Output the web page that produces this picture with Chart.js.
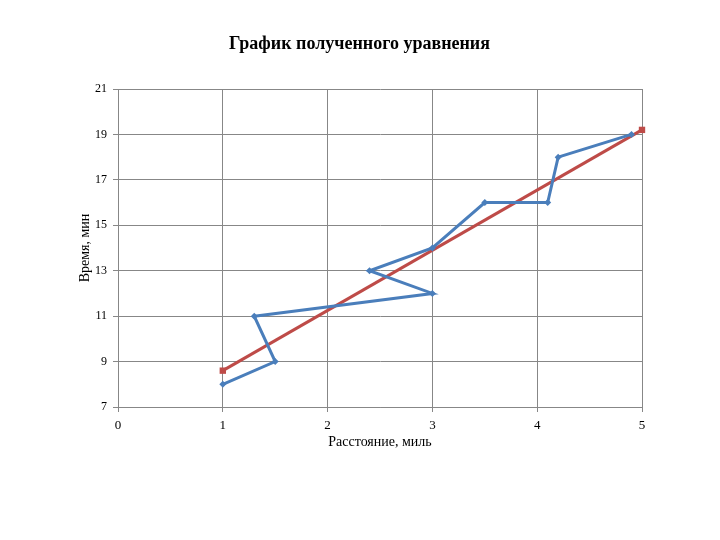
<!DOCTYPE html>
<html>
<head>
<meta charset="utf-8">
<script src="https://cdn.jsdelivr.net/npm/chart.js@4"></script>
<style>
    html, body { margin: 0; padding: 0; background: #fff; }
    #wrap { width: 720px; height: 540px; }
</style>
</head>
<body>
<div id="wrap"><canvas id="chart"></canvas></div>
<script>
// measured data (distance, time)
const distance = [1, 1.5, 1.3, 3, 2.4, 3, 3.5, 4.1, 4.2, 4.9];
const time = [8, 9, 11, 12, 13, 14, 16, 16, 18, 19];

// fitted equation line
const fitX = [1, 5];
const fitY = [8.6, 19.2];

const xTicks = [0, 1, 2, 3, 4, 5];
const yTicks = [7, 9, 11, 13, 15, 17, 19, 21];

const gridColor = "#878787";
const serif = "'Liberation Serif', 'Times New Roman', serif";

function toPoints(xs, ys) {
    return xs.map((x, i) => ({ x: x, y: ys[i] }));
}

new Chart(document.getElementById("chart").getContext("2d"), {
    type: "scatter",
    data: {
        datasets: [
            {
                label: "data",
                data: toPoints(distance, time),
                showLine: true,
                borderColor: "#4a7ebb",
                backgroundColor: "#4a7ebb",
                borderWidth: 3,
                pointStyle: "rectRot",
                pointRadius: 3.5,
                pointBorderWidth: 0,
                clip: false
            },
            {
                label: "fit",
                data: toPoints(fitX, fitY),
                showLine: true,
                borderColor: "#be4b48",
                backgroundColor: "#be4b48",
                borderWidth: 3,
                pointStyle: "rect",
                pointRadius: 4.5,
                pointBorderWidth: 0,
                clip: false
            }
        ]
    },
    options: {
        responsive: true,
        maintainAspectRatio: false,
        animation: false,
        layout: { padding: { left: 77, right: 78, top: 0, bottom: 89 } },
        plugins: {
            legend: { display: false },
            tooltip: { enabled: false },
            title: {
                display: true,
                text: "График полученного уравнения",
                color: "#000",
                font: { family: serif, size: 18, weight: "bold" },
                padding: { top: 34, bottom: 33.4 }
            }
        },
        scales: {
            x: {
                type: "linear",
                min: 0,
                max: 5,
                afterBuildTicks: (scale) => { scale.ticks = xTicks.map(v => ({ value: v })); },
                afterFit: (scale) => { scale.height = 44; },
                grid: { color: gridColor, tickLength: 5, lineWidth: 1 },
                border: { color: gridColor },
                ticks: { color: "#000", font: { family: serif, size: 13 }, padding: 6 },
                title: {
                    display: true,
                    text: "Расстояние, миль",
                    color: "#000",
                    font: { family: serif, size: 14 },
                    padding: 0
                }
            },
            y: {
                type: "linear",
                min: 7,
                max: 21,
                afterBuildTicks: (scale) => { scale.ticks = yTicks.map(v => ({ value: v })); },
                afterFit: (scale) => { scale.width = 41; },
                grid: { color: gridColor, tickLength: 5, lineWidth: 1 },
                border: { color: gridColor },
                ticks: { color: "#000", font: { family: serif, size: 12 }, padding: 6 },
                title: {
                    display: true,
                    text: "Время, мин",
                    color: "#000",
                    font: { family: serif, size: 14 },
                    padding: 0
                }
            }
        }
    }
});
</script>
</body>
</html>
